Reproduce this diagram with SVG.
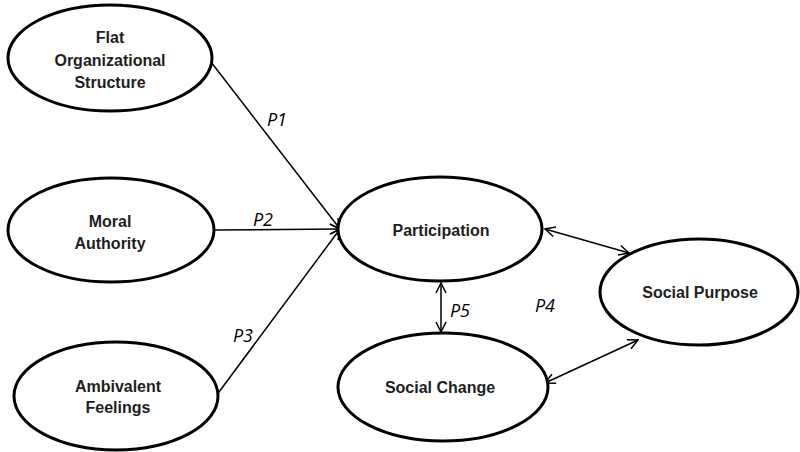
<svg xmlns="http://www.w3.org/2000/svg" width="800" height="452" viewBox="0 0 800 452">
<style>
.node ellipse{fill:#fff;stroke:#000;stroke-width:3}
.node text{font-family:"Liberation Sans",Arial,sans-serif;font-weight:bold;font-size:16px;fill:#1e1e1e;text-anchor:middle}
.conn line{stroke:#000;stroke-width:1.5;fill:none}
.lbl{font-family:"Open Sans","Liberation Sans",sans-serif;font-style:italic;font-size:18px;fill:#000;text-anchor:middle}
</style>
<defs>
<marker id="ah" viewBox="0 0 12 12" refX="11" refY="6" markerWidth="12" markerHeight="12" markerUnits="userSpaceOnUse" orient="auto-start-reverse">
<path d="M1,1 L11,6 L1,11" fill="none" stroke="#000" stroke-width="1.5"/>
</marker>
</defs>
<rect width="800" height="452" fill="#fff"/>
<g class="conn">
<line x1="211" y1="62" x2="340" y2="229" marker-end="url(#ah)"/>
<line x1="215" y1="230" x2="340" y2="229" marker-end="url(#ah)"/>
<line x1="216" y1="396" x2="340" y2="229" marker-end="url(#ah)"/>
<line x1="441" y1="283" x2="441" y2="332" marker-start="url(#ah)" marker-end="url(#ah)"/>
<line x1="545" y1="229" x2="629" y2="253" marker-start="url(#ah)" marker-end="url(#ah)"/>
<line x1="545" y1="383" x2="638" y2="340" marker-start="url(#ah)" marker-end="url(#ah)"/>
<text class="lbl" x="277" y="126">P1</text>
<text class="lbl" x="263" y="226">P2</text>
<text class="lbl" x="243" y="342">P3</text>
<text class="lbl" x="545" y="312">P4</text>
<text class="lbl" x="460" y="317">P5</text>
</g>
<g id="flat" class="node">
<ellipse cx="110" cy="58" rx="102" ry="53"/>
<text x="110" y="43">Flat</text>
<text x="110" y="66">Organizational</text>
<text x="110" y="88">Structure</text>
</g>
<g id="moral" class="node">
<ellipse cx="111" cy="230" rx="103" ry="52"/>
<text x="110" y="227">Moral</text>
<text x="110" y="249">Authority</text>
</g>
<g id="ambivalent" class="node">
<ellipse cx="116" cy="396" rx="102" ry="54"/>
<text x="118" y="392">Ambivalent</text>
<text x="118" y="413">Feelings</text>
</g>
<g id="participation" class="node">
<ellipse cx="440" cy="229" rx="102" ry="52"/>
<text x="441" y="236">Participation</text>
</g>
<g id="socialchange" class="node">
<ellipse cx="443" cy="387" rx="105" ry="54"/>
<text x="440" y="393">Social Change</text>
</g>
<g id="socialpurpose" class="node">
<ellipse cx="699" cy="292" rx="99" ry="53"/>
<text x="700" y="298">Social Purpose</text>
</g>
</svg>
